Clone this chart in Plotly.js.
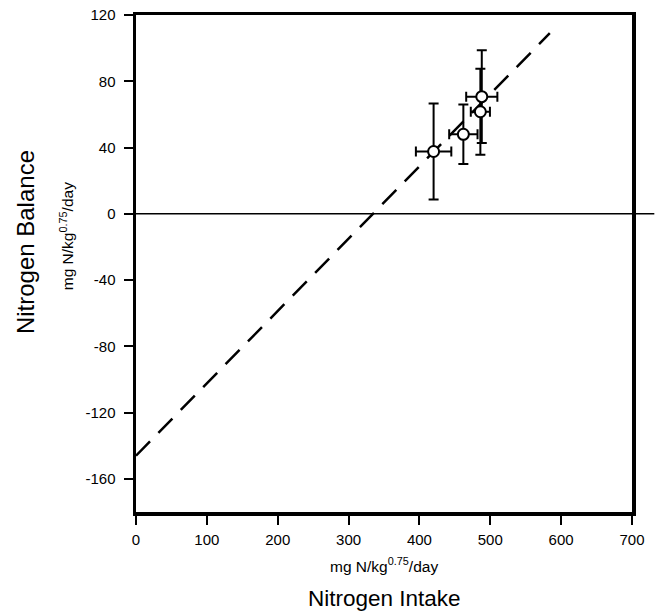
<!DOCTYPE html>
<html>
<head>
<meta charset="utf-8">
<script src="https://cdn.plot.ly/plotly-3.0.1.min.js"></script>
<style>html,body{margin:0;padding:0;background:#fff;}#chart{width:660px;height:614px;}</style>
</head>
<body>
<div id="chart"></div>
<script>
// Data
var intake = [420, 462, 486, 488];
var intakeErr = [25, 20, 13.5, 22];
var balance = [37.6, 48, 61.6, 70.7];
var balanceErr = [29, 18, 26, 28];

var fitX = [0, 584];
var fitY = [-146, 109];

var xTicks = [0, 100, 200, 300, 400, 500, 600, 700];
var yTicks = [-160, -120, -80, -40, 0, 40, 80, 120];

var FONT = 'Liberation Sans, Arial, sans-serif';

var traces = [
  {
    x: fitX, y: fitY, type: 'scatter', mode: 'lines',
    line: {color: '#000', width: 2.5, dash: '20px,12px'},
    hoverinfo: 'skip', showlegend: false
  },
  {
    x: intake, y: balance, type: 'scatter', mode: 'markers',
    marker: {symbol: 'circle', size: 11, color: '#fff', line: {color: '#000', width: 2}},
    error_y: {type: 'data', array: balanceErr, visible: true, color: '#000', thickness: 2, width: 5},
    error_x: {type: 'data', array: intakeErr, visible: true, color: '#000', thickness: 2, width: 5},
    showlegend: false
  }
];

var layout = {
  width: 660, height: 614,
  margin: {l: 136, r: 28, t: 15, b: 102},
  paper_bgcolor: '#fff', plot_bgcolor: '#fff',
  font: {family: FONT, color: '#000', size: 14},
  showlegend: false,
  xaxis: {
    range: [0, 700], tickvals: xTicks, ticktext: xTicks.map(String),
    showgrid: false, zeroline: false,
    showline: true, linewidth: 3.5, linecolor: '#000', mirror: true,
    ticks: 'outside', ticklen: 9, tickwidth: 2, tickcolor: '#000',
    ticklabelstandoff: 2,
    tickfont: {family: FONT, size: 15, color: '#000'}
  },
  yaxis: {
    range: [-180, 120], tickvals: yTicks, ticktext: yTicks.map(String),
    showgrid: false, zeroline: false,
    showline: true, linewidth: 3.5, linecolor: '#000', mirror: true,
    ticks: 'outside', ticklen: 9, tickwidth: 2, tickcolor: '#000',
    ticklabelstandoff: 5,
    tickfont: {family: FONT, size: 15, color: '#000'}
  },
  shapes: [
    {type: 'line', xref: 'paper', yref: 'y', x0: 0, x1: 1.045, y0: 0, y1: 0,
     line: {color: '#000', width: 1.5}, layer: 'below'}
  ],
  annotations: [
    {text: 'Nitrogen Balance', xref: 'paper', yref: 'paper', x: -0.2238, y: 0.543,
     xanchor: 'center', yanchor: 'middle', textangle: -90, showarrow: false,
     font: {family: FONT, size: 24, color: '#000'}},
    {text: 'mg N/kg<sup>0.75</sup>/day', xref: 'paper', yref: 'paper', x: -0.139, y: 0.555,
     xanchor: 'center', yanchor: 'middle', textangle: -90, showarrow: false,
     font: {family: FONT, size: 15.5, color: '#000'}},
    {text: 'mg N/kg<sup>0.75</sup>/day', xref: 'paper', yref: 'paper', x: 0.5, y: -0.1066,
     xanchor: 'center', yanchor: 'middle', showarrow: false,
     font: {family: FONT, size: 15.5, color: '#000'}},
    {text: 'Nitrogen Intake', xref: 'paper', yref: 'paper', x: 0.5, y: -0.175,
     xanchor: 'center', yanchor: 'middle', showarrow: false,
     font: {family: FONT, size: 22.5, color: '#000'}}
  ]
};

Plotly.newPlot('chart', traces, layout, {displayModeBar: false, staticPlot: true});
</script>
</body>
</html>
